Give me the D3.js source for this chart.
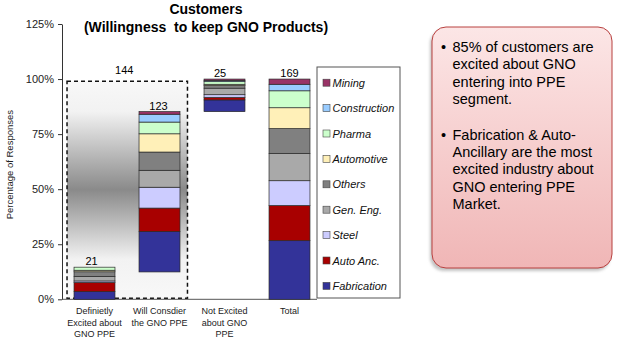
<!DOCTYPE html>
<html>
<head>
<meta charset="utf-8">
<script src="https://cdn.jsdelivr.net/npm/d3@7"></script>
<style>
  html, body { margin: 0; padding: 0; background: #ffffff; }
  svg { display: block; font-family: "Liberation Sans", Arial, sans-serif; }
</style>
</head>
<body>
<svg id="chart" width="623" height="353"></svg>
<script>
// ---------------- DATA ----------------
const categories = ["Definietly Excited about GNO PPE", "Will Consdier the GNO PPE", "Not Excited about GNO PPE", "Total"];
const categoryLines = [["Definietly", "Excited about", "GNO PPE"], ["Will Consdier", "the GNO PPE"], ["Not Excited", "about GNO", "PPE"], ["Total"]];
// industries listed bottom -> top of the stack
const industries = ["Fabrication", "Auto Anc.", "Steel", "Gen. Eng.", "Others", "Automotive", "Pharma", "Construction", "Mining"];
const industryColors = ["#333399", "#a80000", "#ccccff", "#a9a9a9", "#808080", "#fff0b8", "#ccffcc", "#99ccff", "#993366"];
// respondent counts per industry (same order as industries)
const definitelyExcited = [5, 6, 1, 3, 3, 1, 2, 0, 0];
const willConsider      = [31, 18, 16, 13, 14, 14, 9, 6, 2];
const notExcited        = [9, 2, 2, 5, 2, 1, 2, 1, 1];
const totalCounts       = [45, 27, 19, 21, 19, 16, 13, 5, 4];
const barLabels = [21, 123, 25, 169];
const barBaseCounts = [0, 21, 144, 0];       // floating start (waterfall)
const barDenominators = [144, 169, 169, 169];
const excitedTotal = 144;
const yTicks = [0, 0.25, 0.5, 0.75, 1.0, 1.25];
const titleLines = ["Customers", "(Willingness  to keep GNO Products)"];
const bullets = [
  ["85% of customers are", "excited about GNO", "entering into PPE", "segment."],
  ["Fabrication & Auto-", "Ancillary are the most", "excited industry about", "GNO entering PPE", "Market."]
];

// ---------------- CHART ----------------
const svg = d3.select("#chart");
const defs = svg.append("defs");

const x = d3.scaleBand().domain(categories).range([62, 322]).paddingInner(0.37).paddingOuter(0.185);
const y = d3.scaleLinear().domain([0, 1.25]).range([299.3, 24]);

// gradient for the dashed "excited" box
const g1 = defs.append("linearGradient").attr("id", "boxGrad").attr("x1", 0).attr("y1", 0).attr("x2", 0).attr("y2", 1);
[[0, "#f8f8f8"], [0.14, "#f2f2f2"], [0.5, "#8a8a8a"], [0.82, "#f2f2f2"], [1, "#f8f8f8"]]
  .forEach(([o, c]) => g1.append("stop").attr("offset", o).attr("stop-color", c));
const g2 = defs.append("linearGradient").attr("id", "pinkGrad").attr("x1", 0).attr("y1", 0).attr("x2", 0).attr("y2", 1);
[[0, "#fce6e6"], [1, "#f0b6b6"]].forEach(([o, c]) => g2.append("stop").attr("offset", o).attr("stop-color", c));
const f = defs.append("filter").attr("id", "shadow").attr("x", -0.2).attr("y", -0.2).attr("width", 1.4).attr("height", 1.4);
f.append("feGaussianBlur").attr("stdDeviation", 1.5);

// Title
svg.append("g").selectAll("text").data(titleLines).join("text")
  .attr("x", 206).attr("y", (d, i) => 14 + i * 17.5)
  .attr("text-anchor", "middle").attr("font-weight", "bold").attr("font-size", 14)
  .attr("fill", "#000").style("white-space", "pre").text(d => d);

// Dashed box for the excited group
const boxX0 = x(categories[0]) - 7;
const boxX1 = x(categories[1]) + x.bandwidth() + 7.5;
const boxTop = y(0.99);
svg.append("rect").attr("x", boxX0).attr("y", boxTop).attr("width", boxX1 - boxX0).attr("height", y(0) - 1 - boxTop)
  .attr("fill", "url(#boxGrad)").attr("stroke", "#111").attr("stroke-width", 1.5).attr("stroke-dasharray", "4,3");
svg.append("text").attr("x", (boxX0 + boxX1) / 2 - 3).attr("y", boxTop - 7.5)
  .attr("text-anchor", "middle").attr("font-size", 11).text(excitedTotal);

// Axes
const yAxis = svg.append("g").attr("transform", "translate(62,0)")
  .call(d3.axisLeft(y).tickValues(yTicks).tickFormat(d3.format(".0%")).tickSize(4).tickSizeOuter(0));
yAxis.selectAll("text").attr("font-size", 11).attr("font-family", "Liberation Sans, Arial, sans-serif").attr("fill", "#222").attr("x", -8);
yAxis.selectAll("line, path").attr("stroke", "#333");
svg.append("line").attr("x1", 62).attr("x2", 317).attr("y1", y(0)).attr("y2", y(0)).attr("stroke", "#555");

svg.append("text").attr("transform", `translate(12.5,${(y(0) + y(1.25)) / 2 + 3}) rotate(-90)`)
  .attr("text-anchor", "middle").attr("font-size", 9.5).attr("fill", "#222").text("Percentage of Responses");

// Bars
const series = [definitelyExcited, willConsider, notExcited, totalCounts];
series.forEach((vals, bi) => {
  const den = barDenominators[bi];
  let acc = barBaseCounts[bi];
  const segs = vals.map((v, k) => { const s = { k, y0: acc / den, y1: (acc + v) / den }; acc += v; return s; });
  const g = svg.append("g");
  g.selectAll("rect").data(segs.filter(s => s.y1 > s.y0)).join("rect")
    .attr("x", x(categories[bi])).attr("width", x.bandwidth())
    .attr("y", s => y(s.y1)).attr("height", s => y(s.y0) - y(s.y1))
    .attr("fill", s => industryColors[s.k]).attr("stroke", "#2a2a2a").attr("stroke-width", 0.7);
  const topY = y(acc / den);
  const offs = [-3, -1, -4.5, 0];
  svg.append("text").attr("x", x(categories[bi]) + x.bandwidth() / 2 + offs[bi]).attr("y", topY - 2)
    .attr("text-anchor", "middle").attr("font-size", 11).attr("fill", "#000").text(barLabels[bi]);
});

// Category labels
categoryLines.forEach((lines, i) => {
  const t = svg.append("text").attr("text-anchor", "middle").attr("font-size", 9).attr("fill", "#222");
  lines.forEach((ln, j) => t.append("tspan").attr("x", x(categories[i]) + x.bandwidth() / 2).attr("y", 314 + j * 11.7).text(ln));
});

// Legend
const legX = 317, legY = 67, legW = 83, legH = 231;
svg.append("rect").attr("x", legX).attr("y", legY).attr("width", legW).attr("height", legH)
  .attr("fill", "#fff").attr("stroke", "#555").attr("stroke-width", 1);
const legendOrder = industries.map((d, i) => i).reverse();
const leg = svg.append("g").selectAll("g").data(legendOrder).join("g")
  .attr("transform", (d, i) => `translate(${legX + 6},${82.7 + i * 25.4})`);
leg.append("rect").attr("x", 0).attr("y", -3.5).attr("width", 7).attr("height", 7)
  .attr("fill", d => industryColors[d]).attr("stroke", "#444").attr("stroke-width", 0.6);
leg.append("text").attr("x", 9.5).attr("y", 4).attr("font-size", 11).attr("font-style", "italic")
  .attr("fill", "#111").text(d => industries[d]);

// Callout box
const bx = 432, by = 27, bw = 180, bh = 241;
svg.append("rect").attr("x", bx - 2).attr("y", by + 3).attr("width", bw).attr("height", bh).attr("rx", 14)
  .attr("fill", "#888").attr("opacity", 0.5).attr("filter", "url(#shadow)");
svg.append("rect").attr("x", bx).attr("y", by).attr("width", bw).attr("height", bh).attr("rx", 14)
  .attr("fill", "url(#pinkGrad)").attr("stroke", "#b8403f").attr("stroke-width", 1);
let lineY = 52;
bullets.forEach((lines, bi) => {
  svg.append("text").attr("x", 441).attr("y", lineY).attr("font-size", 14.5).attr("fill", "#000").text("•");
  lines.forEach((ln, j) => {
    svg.append("text").attr("x", 452.5).attr("y", lineY + j * 17.4).attr("font-size", 14.5).attr("fill", "#000").text(ln);
  });
  lineY += lines.length * 17.4 + 18;
});
</script>
</body>
</html>
